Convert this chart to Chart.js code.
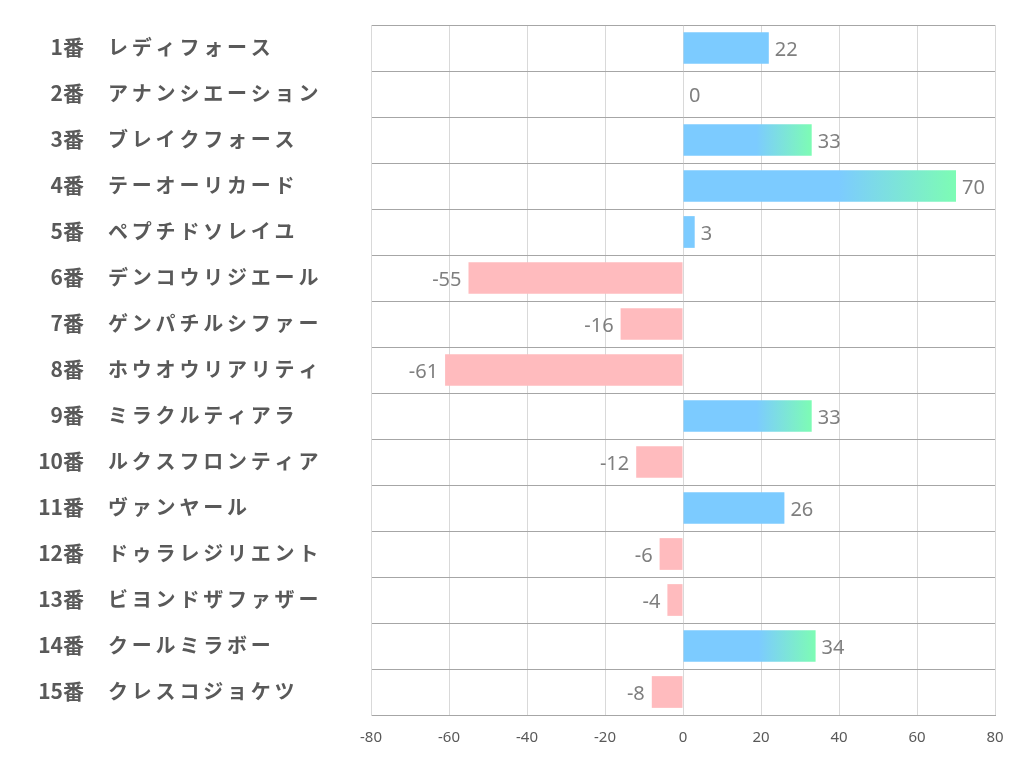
<!DOCTYPE html>
<html>
<head>
<meta charset="utf-8">
<script src="https://cdn.jsdelivr.net/npm/chart.js@4/dist/chart.umd.min.js"></script>
<style>
    html, body { margin: 0; padding: 0; background: #fff; }
    #wrap { width: 1022px; height: 782px; }
</style>
</head>
<body>
<div id="wrap"><canvas id="chart" width="1022" height="782"></canvas></div>
<script>
// ---- DATA ----
const horseNumbers = ["1番", "2番", "3番", "4番", "5番", "6番", "7番", "8番", "9番", "10番", "11番", "12番", "13番", "14番", "15番"];
const horseNames = [
    "レディフォース", "アナンシエーション", "ブレイクフォース", "テーオーリカード", "ペプチドソレイユ",
    "デンコウリジエール", "ゲンパチルシファー", "ホウオウリアリティ", "ミラクルティアラ", "ルクスフロンティア",
    "ヴァンヤール", "ドゥラレジリエント", "ビヨンドザファザー", "クールミラボー", "クレスコジョケツ"
];
const scores = [22, 0, 33, 70, 3, -55, -16, -61, 33, -12, 26, -6, -4, 34, -8];
const xTicks = [-80, -60, -40, -20, 0, 20, 40, 60, 80];

const BLUE = "#7ccbff";
const GREEN = "#7dfcb4";
const PINK = "#ffbbbe";

// Blue bars above 30 fade into green toward their tip
function barColor(context) {
    const v = context.raw;
    if (v < 0) return PINK;
    if (v < 30) return BLUE;
    const x = context.chart.scales.x;
    if (!x) return BLUE;
    const x0 = x.getPixelForValue(0);
    const x1 = x.getPixelForValue(v);
    const g = context.chart.ctx.createLinearGradient(x0, 0, x1, 0);
    g.addColorStop(0, BLUE);
    g.addColorStop(0.57, BLUE);
    g.addColorStop(1, GREEN);
    return g;
}

// Row labels: number right-aligned, horse name left-aligned
const rowLabels = {
    id: "rowLabels",
    afterDraw(chart) {
        const ctx = chart.ctx;
        const y = chart.scales.y;
        ctx.save();
        ctx.fillStyle = "#595959";
        ctx.textBaseline = "middle";
        horseNumbers.forEach((num, i) => {
            const py = y.getPixelForValue(i) - 1;
            ctx.font = "bold 21px 'Noto Sans CJK JP'";
            ctx.letterSpacing = "0px";
            ctx.textAlign = "right";
            ctx.fillText(num, 84, py);
            ctx.font = "bold 20px 'Noto Sans CJK JP'";
            ctx.letterSpacing = "3.8px";
            ctx.textAlign = "left";
            ctx.fillText(horseNames[i], 108, py);
        });
        ctx.restore();
    }
};

// Value labels at the bar tips
const valueLabels = {
    id: "valueLabels",
    afterDatasetsDraw(chart) {
        const ctx = chart.ctx;
        const meta = chart.getDatasetMeta(0);
        ctx.save();
        ctx.font = "20px 'Noto Sans'";
        ctx.fillStyle = "#7f7f7f";
        ctx.textBaseline = "middle";
        meta.data.forEach((bar, i) => {
            const v = scores[i];
            if (v < 0) {
                ctx.textAlign = "right";
                ctx.fillText(String(v), bar.x - 7, bar.y + 2);
            } else {
                ctx.textAlign = "left";
                ctx.fillText(String(v), bar.x + 6, bar.y + 2);
            }
        });
        ctx.restore();
    }
};

new Chart(document.getElementById("chart"), {
    type: "bar",
    data: {
        labels: horseNames,
        datasets: [{
            data: scores,
            backgroundColor: barColor,
            borderWidth: 0,
            categoryPercentage: 1,
            barPercentage: 0.69
        }]
    },
    options: {
        indexAxis: "y",
        responsive: false,
        animation: false,
        layout: { padding: { left: 371, right: 27, top: 25, bottom: 21 } },
        plugins: {
            legend: { display: false },
            tooltip: { enabled: false }
        },
        scales: {
            x: {
                min: -80,
                max: 80,
                afterBuildTicks: axis => { axis.ticks = xTicks.map(v => ({ value: v })); },
                ticks: {
                    color: "#595959",
                    font: { family: "'Noto Sans'", size: 15 },
                    padding: 14
                },
                grid: { color: "#d9d9d9", drawTicks: false },
                border: { color: "#a6a6a6", width: 1 }
            },
            y: {
                ticks: { display: false },
                grid: { color: "#a6a6a6", drawTicks: false, offset: true },
                border: { color: "#d9d9d9", width: 1 }
            }
        }
    },
    plugins: [rowLabels, valueLabels]
});
</script>
</body>
</html>
